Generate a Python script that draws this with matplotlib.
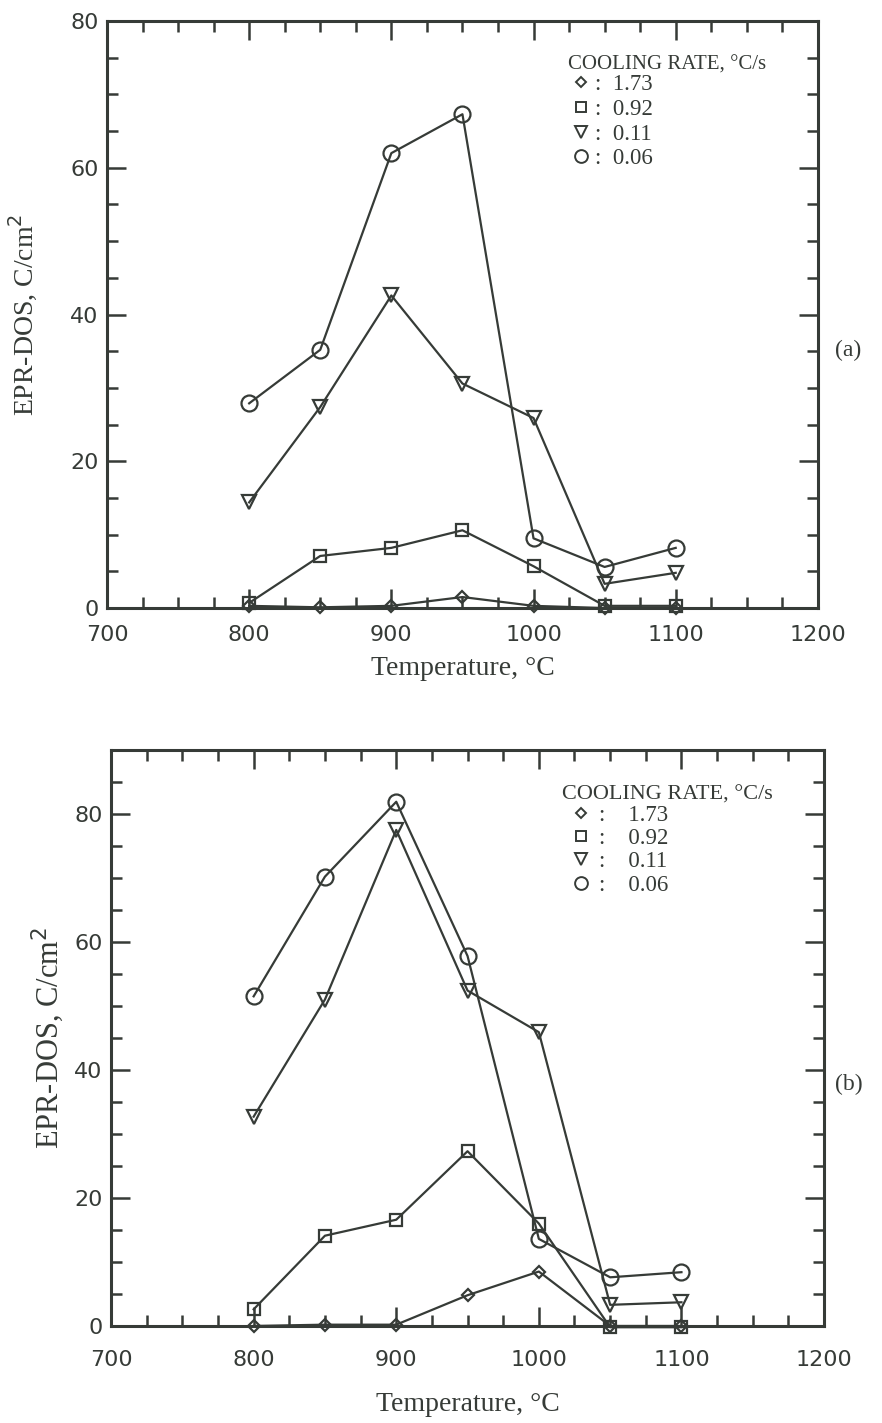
import matplotlib
matplotlib.use("Agg")
import matplotlib.pyplot as plt
from matplotlib.ticker import MultipleLocator
from matplotlib.lines import Line2D

# temperatures (deg C) common to both panels
temps = [800, 850, 900, 950, 1000, 1050, 1100]

# cooling rates, deg C/s
rates = ["1.73", "0.92", "0.11", "0.06"]

# panel (a) EPR-DOS, C/cm2
a_173 = [0.3, 0.1, 0.3, 1.5, 0.3, 0.0, 0.0]
a_092 = [0.7, 7.1, 8.2, 10.6, 5.7, 0.3, 0.3]
a_011 = [14.4, 27.4, 42.6, 30.6, 25.9, 3.3, 4.8]
a_006 = [27.9, 35.2, 62.0, 67.3, 9.5, 5.6, 8.2]

# panel (b)
b_173 = [0.0, 0.2, 0.2, 4.8, 8.5, 0.0, 0.0]
b_092 = [2.6, 14.1, 16.6, 27.3, 16.0, -0.2, -0.2]
b_011 = [32.7, 51.0, 77.5, 52.4, 45.9, 3.3, 3.7]
b_006 = [51.5, 70.2, 81.9, 57.8, 13.6, 7.6, 8.4]

ink = "#363b37"
markers = ["D", "s", "v", "o"]
msizes = [6, 8.5, 10, 11.5]

plt.rcParams["font.family"] = "DejaVu Sans"

fig = plt.figure(figsize=(8.82, 14.23), dpi=100)
ax_a = fig.add_axes([0.1213, 0.5727, 0.806, 0.4125])
ax_b = fig.add_axes([0.1259, 0.0682, 0.8084, 0.4048])

def draw(ax, series, ymax, xpad, xlpad, ylpad, ylsize, anchor, gap, sep, hlen, tsize, isize):
    for vals, mk, ms in zip(series, markers, msizes):
        ax.plot(temps, vals, color=ink, lw=1.6, marker=mk, ms=ms,
                mfc="none", mec=ink, mew=1.6, clip_on=False, zorder=3)
    ax.set_xlim(700, 1200)
    ax.set_ylim(0, ymax)
    ax.xaxis.set_major_locator(MultipleLocator(100))
    ax.xaxis.set_minor_locator(MultipleLocator(25))
    ax.yaxis.set_major_locator(MultipleLocator(20))
    ax.yaxis.set_minor_locator(MultipleLocator(5))
    ax.tick_params(which="both", direction="in", top=True, right=True,
                   color=ink, labelcolor=ink, labelsize=16, width=1.8)
    ax.tick_params(which="major", length=14)
    ax.tick_params(which="minor", length=8)
    ax.tick_params(axis="x", which="major", pad=xpad)
    ax.tick_params(axis="y", which="major", pad=6)
    for s in ax.spines.values():
        s.set_linewidth(2.2)
        s.set_color(ink)
    ax.set_xlabel("Temperature, \u00b0C", family="Liberation Serif",
                  fontsize=20, color=ink, labelpad=xlpad)
    ax.set_ylabel("EPR-DOS, C/cm$^2$", family="Liberation Serif",
                  fontsize=ylsize, color=ink, labelpad=ylpad)
    handles = [Line2D([], [], ls="none", marker=mk, ms=ms * 0.8, mfc="none",
                      mec=ink, mew=1.4) for mk, ms in zip(markers, msizes)]
    leg = ax.legend(handles, [":" + sep + r for r in rates],
                    title="COOLING RATE, \u00b0C/s", loc="upper left",
                    bbox_to_anchor=anchor, frameon=False,
                    prop={"family": "Liberation Serif", "size": isize},
                    title_fontproperties={"family": "Liberation Serif", "size": tsize},
                    handlelength=hlen, handletextpad=0.0, labelspacing=gap,
                    borderpad=0.0, borderaxespad=0)
    for t in leg.get_texts():
        t.set_color(ink)
    leg.get_title().set_color(ink)
    leg._legend_box.align = "left"
    leg._legend_box.sep = 0

draw(ax_a, [a_173, a_092, a_011, a_006], 80, 12, 8, 22, 20,
     (0.648, 0.942), 0.16, "  ", 1.2, 15, 16.5)
draw(ax_b, [b_173, b_092, b_011, b_006], 90, 17, 16, 6, 22,
     (0.633, 0.938), 0.1, "    ", 1.6, 16, 16.5)

fig.text(0.962, 0.754, "(a)", family="Liberation Serif", fontsize=17,
         color=ink, ha="center", va="center")
fig.text(0.962, 0.238, "(b)", family="Liberation Serif", fontsize=17,
         color=ink, ha="center", va="center")

fig.savefig("out.png", dpi=100, facecolor="white")
